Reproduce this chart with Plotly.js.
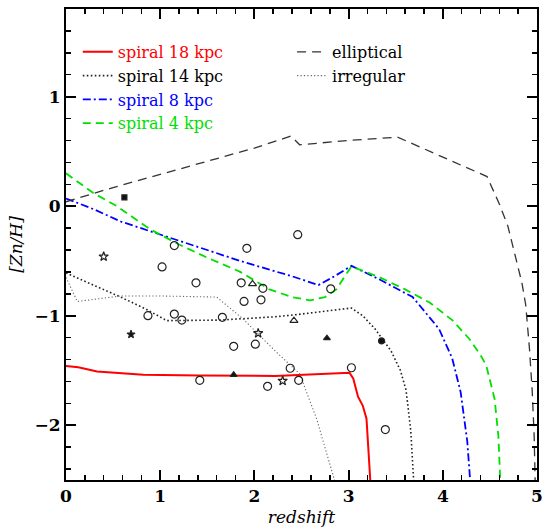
<!DOCTYPE html>
<html>
<head>
<meta charset="utf-8">
<script src="https://cdn.plot.ly/plotly-3.0.1.min.js"></script>
<style>html,body{margin:0;padding:0;background:#fff;}#chart{width:550px;height:530px;}</style>
</head>
<body>
<div id="chart"></div>
<script>
// ---- model curves ----
const spiral18X = [0, 0.13, 0.33, 0.82, 1.42, 2.22, 3.01, 3.05, 3.10, 3.15, 3.19, 3.21, 3.23];
const spiral18Y = [-1.46, -1.47, -1.51, -1.54, -1.545, -1.55, -1.52, -1.575, -1.74, -1.82, -1.94, -2.18, -2.5];

const spiral14X = [0, 0.3, 0.58, 0.85, 1.07, 1.63, 2.22, 2.45, 3.03, 3.15, 3.28, 3.45, 3.55, 3.61, 3.66, 3.69];
const spiral14Y = [-0.61, -0.72, -0.83, -0.94, -1.045, -1.04, -1.01, -0.99, -0.93, -1.0, -1.12, -1.32, -1.5, -1.68, -2.05, -2.5];

const spiral8X = [0, 0.3, 0.58, 1.0, 1.4, 1.85, 2.16, 2.4, 2.68, 2.85, 3.03, 3.33, 3.68, 3.96, 4.1, 4.19, 4.26, 4.29];
const spiral8Y = [0.07, -0.03, -0.14, -0.26, -0.37, -0.5, -0.58, -0.64, -0.72, -0.64, -0.545, -0.67, -0.83, -1.12, -1.39, -1.7, -2.15, -2.5];

const spiral4X = [0, 0.29, 0.54, 0.89, 1.2, 1.5, 1.85, 2.16, 2.4, 2.59, 2.75, 2.87, 2.96, 3.03, 3.33, 3.6, 3.86, 4.1, 4.28, 4.4, 4.46, 4.55, 4.59, 4.61];
const spiral4Y = [0.30, 0.12, 0.0, -0.21, -0.35, -0.47, -0.6, -0.76, -0.83, -0.86, -0.83, -0.76, -0.64, -0.55, -0.65, -0.76, -0.88, -1.04, -1.21, -1.36, -1.45, -1.76, -2.1, -2.5];

const ellipX = [0, 0.5, 1.0, 1.5, 2.0, 2.39, 2.48, 3.0, 3.52, 4.47, 4.6, 4.69, 4.77, 4.84, 4.88, 4.92, 4.95, 4.97, 4.98];
const ellipY = [0.04, 0.17, 0.29, 0.41, 0.53, 0.64, 0.56, 0.60, 0.63, 0.27, 0.02, -0.18, -0.45, -0.7, -0.9, -1.3, -1.7, -2.1, -2.5];

const irrX = [0, 0.12, 0.58, 1.0, 1.6, 1.88, 2.23, 2.48, 2.66, 2.85];
const irrY = [-0.65, -0.87, -0.82, -0.82, -0.83, -1.03, -1.33, -1.53, -1.94, -2.5];

// ---- observed points ----
const circX = [1.15, 1.92, 2.46, 1.02, 1.38, 1.86, 2.09, 2.81, 1.89, 2.07, 0.87, 1.15, 1.23, 1.66, 1.78, 2.01, 1.42, 2.14, 2.38, 3.03, 2.47, 3.39];
const circY = [-0.36, -0.385, -0.26, -0.555, -0.70, -0.70, -0.75, -0.755, -0.87, -0.855, -1.0, -0.985, -1.04, -1.015, -1.28, -1.26, -1.59, -1.645, -1.48, -1.475, -1.59, -2.04];
const triOpenX = [1.98, 2.42];
const triOpenY = [-0.71, -1.045];
const triFillX = [1.78, 2.77];
const triFillY = [-1.54, -1.205];
const starOpenX = [0.40, 2.04, 2.30];
const starOpenY = [-0.46, -1.16, -1.595];
const starFillX = [0.69];
const starFillY = [-1.17];
const sqX = [0.62];
const sqY = [0.08];
const dotX = [3.35];
const dotY = [-1.23];

const xTicks = [0, 1, 2, 3, 4, 5];
const yTicks = [-2, -1, 0, 1];
const yTickText = ['\u22122', '\u22121', '0', '1'];

const serif = 'DejaVu Serif, Liberation Serif, serif';

function pts(x, y, sym, size, filled) {
  return {x: x, y: y, type: 'scatter', mode: 'markers', showlegend: false, hoverinfo: 'skip',
    marker: {symbol: sym, size: size, color: filled ? '#111' : '#222', line: {color: '#222', width: 1.2}}};
}

const traces = [
  {x: spiral18X, y: spiral18Y, mode: 'lines', name: '<span style="color:#ff0000">spiral 18 kpc</span>', legend: 'legend',
   line: {color: '#ff0000', width: 2}},
  {x: spiral14X, y: spiral14Y, mode: 'lines', name: 'spiral 14 kpc', legend: 'legend',
   line: {color: '#222', width: 1.6, dash: '1.6px,2.4px'}},
  {x: spiral8X, y: spiral8Y, mode: 'lines', name: '<span style="color:#0000ff">spiral 8 kpc</span>', legend: 'legend',
   line: {color: '#0000ff', width: 1.8, dash: '8px,3px,2px,3px'}},
  {x: spiral4X, y: spiral4Y, mode: 'lines', name: '<span style="color:#00e000">spiral 4 kpc</span>', legend: 'legend',
   line: {color: '#00e000', width: 1.8, dash: '8px,5px'}},
  {x: ellipX, y: ellipY, mode: 'lines', name: 'elliptical', legend: 'legend2',
   line: {color: '#333', width: 1.3, dash: '9px,6px'}},
  {x: irrX, y: irrY, mode: 'lines', name: 'irregular', legend: 'legend2',
   line: {color: '#666', width: 1.1, dash: '1.2px,2.2px'}},
  pts(circX, circY, 'circle-open', 8, false),
  pts(triOpenX, triOpenY, 'triangle-up-open', 7, false),
  pts(triFillX, triFillY, 'triangle-up', 6, true),
  pts(starOpenX, starOpenY, 'star-open', 7, false),
  pts(starFillX, starFillY, 'star', 6, true),
  pts(sqX, sqY, 'square', 5, true),
  pts(dotX, dotY, 'circle', 6, true)
];

const axisCommon = {
  showgrid: false, zeroline: false, showline: true, linecolor: '#000', linewidth: 2,
  mirror: 'ticks', ticks: 'inside', ticklen: 10, tickwidth: 2, tickcolor: '#000',
  tickfont: {family: serif, size: 17, color: '#000', weight: 700},
  minor: {dtick: 0.2, ticks: 'inside', ticklen: 5, tickwidth: 1.5, tickcolor: '#000'}
};

const layout = {
  width: 550, height: 530,
  margin: {l: 66, r: 13, t: 9, b: 50},
  paper_bgcolor: '#fff', plot_bgcolor: '#fff',
  xaxis: Object.assign({}, axisCommon, {
    range: [0, 5], tickvals: xTicks, ticktext: xTicks.map(String),
    title: {text: 'redshift', font: {family: serif, size: 17, style: 'italic', color: '#000'}, standoff: 6}
  }),
  yaxis: Object.assign({}, axisCommon, {
    range: [-2.5, 1.8], tickvals: yTicks, ticktext: yTickText,
    title: {text: '[Zn/H]', font: {family: serif, size: 17, style: 'italic', color: '#000'}, standoff: 8}
  }),
  legend: {x: 0.025, y: 0.945, xanchor: 'left', yanchor: 'top', bgcolor: 'rgba(0,0,0,0)',
    font: {family: serif, size: 16, color: '#000'}, tracegroupgap: 0, itemwidth: 30},
  legend2: {x: 0.48, y: 0.945, xanchor: 'left', yanchor: 'top', bgcolor: 'rgba(0,0,0,0)',
    font: {family: serif, size: 16, color: '#000'}, tracegroupgap: 0, itemwidth: 30},
  showlegend: true
};

Plotly.newPlot('chart', traces, layout, {staticPlot: true, displayModeBar: false});
</script>
</body>
</html>
